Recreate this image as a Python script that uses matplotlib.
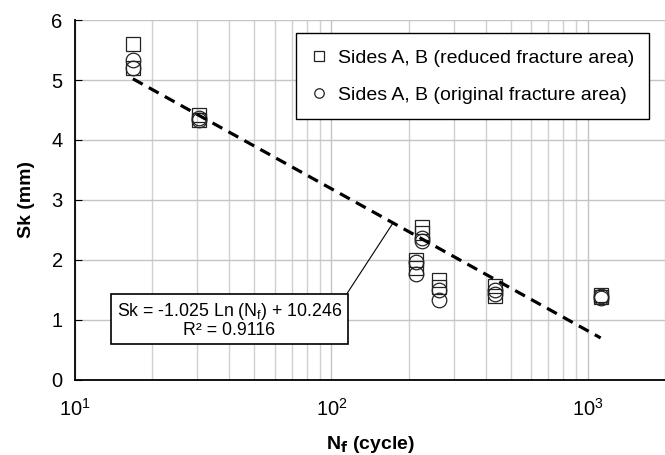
import matplotlib
matplotlib.use("Agg")
import matplotlib.pyplot as plt

plt.rcParams['font.family'] = ['Liberation Sans', 'DejaVu Sans']

# cycles to failure for each specimen group
nf_reduced = [16.8, 16.8, 30.4, 30.4, 225, 225, 213, 213, 262, 262, 436, 436, 1122, 1122]
sk_reduced = [5.6, 5.2, 4.42, 4.33, 2.55, 2.45, 2.0, 1.87, 1.67, 1.55, 1.56, 1.40, 1.42, 1.38]

nf_original = [16.8, 16.8, 30.4, 30.4, 225, 225, 213, 213, 262, 262, 436, 436, 1122, 1122]
sk_original = [5.33, 5.2, 4.37, 4.33, 2.37, 2.32, 1.96, 1.77, 1.50, 1.34, 1.50, 1.43, 1.40, 1.37]

# logarithmic trendline, as drawn
trend_x = [16.8, 1122]
trend_y = [5.02, 0.70]

fig = plt.figure(figsize=(6.65, 4.55), dpi=100)
ax = fig.add_axes([0.113, 0.165, 0.887, 0.791])

ax.plot(nf_reduced, sk_reduced, linestyle='none', marker='s', markersize=10.5,
        markerfacecolor='none', markeredgecolor='#222222', markeredgewidth=0.9,
        label='Sides A, B (reduced fracture area)', zorder=3)
ax.plot(nf_original, sk_original, linestyle='none', marker='o', markersize=10.5,
        markerfacecolor='none', markeredgecolor='#222222', markeredgewidth=0.9,
        label='Sides A, B (original fracture area)', zorder=3)
ax.plot(trend_x, trend_y, color='black', linestyle=(0, (3.5, 2.2)), linewidth=2.3, zorder=4)

ax.set_xscale('log')
ax.set_xlim(10, 2000)
ax.set_ylim(0, 6)
ax.set_yticks(range(0, 7))

ax.grid(True, which='major', color='#c4c4c4', linewidth=1.0)
ax.grid(True, which='minor', axis='x', color='#d0d0d0', linewidth=1.0)
ax.set_axisbelow(True)

ax.spines['top'].set_visible(False)
ax.spines['right'].set_visible(False)
ax.spines['left'].set_linewidth(1.3)
ax.spines['bottom'].set_linewidth(1.3)

ax.tick_params(axis='y', direction='in', length=5, labelsize=14.5, pad=9)
ax.tick_params(axis='x', which='both', length=0, labelsize=14.5, pad=13)

ax.set_xlabel(r'N$_\mathbf{f}$ (cycle)', fontsize=14, fontweight='bold', labelpad=10)
ax.set_ylabel('Sk (mm)', fontsize=14, fontweight='bold', labelpad=12)

leg = ax.legend(loc='upper right', bbox_to_anchor=(0.99, 0.99), fontsize=14,
                markerscale=0.65, handlelength=0.8, handletextpad=0.55,
                labelspacing=1.0, borderpad=0.8, fancybox=False, framealpha=1)
leg.get_frame().set_edgecolor('black')
leg.get_frame().set_linewidth(1.0)

ax.annotate('Sk = -1.025 Ln (N$_\\mathregular{f}$) + 10.246\nR² = 0.9116',
            xy=(174, 2.62), xytext=(40, 1.0), textcoords='data',
            ha='center', va='center', fontsize=12.8, linespacing=1.0,
            bbox=dict(boxstyle='square,pad=0.3', facecolor='white',
                      edgecolor='black', linewidth=1.2),
            arrowprops=dict(arrowstyle='-', color='black', linewidth=0.8,
                            relpos=(1, 1), shrinkA=0, shrinkB=0),
            zorder=5)

fig.savefig('out.png', dpi=100)
